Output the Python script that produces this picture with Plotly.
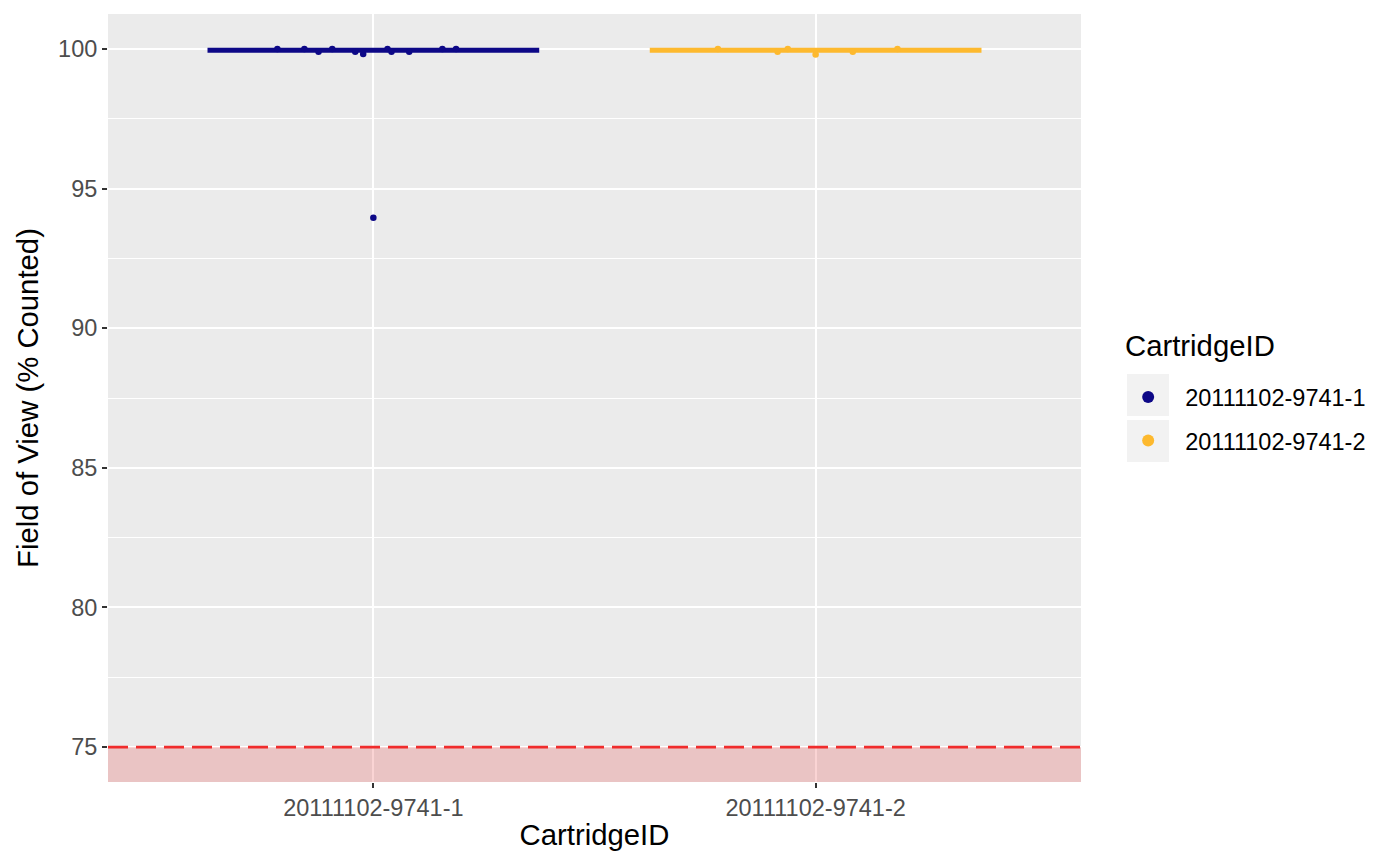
import numpy as np
import plotly.graph_objects as go

# data
cartridges = ["20111102-9741-1", "20111102-9741-2"]
colors = ["#0D0887", "#FDB92E"]

jitter_1 = [-0.217, -0.156, -0.124, -0.093, -0.041, -0.023, 0.032, 0.041, 0.081, 0.156, 0.187, 0.0]
fov_1 = [100.0, 100.0, 99.9, 100.0, 99.9, 99.82, 100.0, 99.9, 99.9, 100.0, 100.0, 93.95]

jitter_2 = [-0.221, -0.086, -0.063, 0.0, 0.084, 0.185]
fov_2 = [100.0, 99.9, 100.0, 99.8, 99.9, 100.0]

threshold = 75
y_ticks = [75, 80, 85, 90, 95, 100]

FONT = "Liberation Sans, Arial, sans-serif"
Y_RANGE = [73.75, 101.25]
TICK_SIZE = 23.5
TITLE_SIZE = 29.3

fig = go.Figure()

groups = [(jitter_1, fov_1), (jitter_2, fov_2)]
for i, (jit, vals) in enumerate(groups):
    pos = i + 1
    med = float(np.median(vals))
    # median bar
    fig.add_trace(go.Scatter(
        x=[pos - 0.375, pos + 0.375], y=[med, med], mode="lines",
        line=dict(color=colors[i], width=5), showlegend=False, hoverinfo="skip"))
    fig.add_trace(go.Scatter(
        x=[pos + j for j in jit], y=vals, mode="markers",
        marker=dict(color=colors[i], size=6.5), name=cartridges[i],
        legendgroup=cartridges[i]))

# fail zone, drawn over the grid like ggplot's annotate layer
fig.add_shape(type="rect", xref="paper", x0=0, x1=1, yref="y", y0=Y_RANGE[0], y1=threshold,
              fillcolor="rgba(230,40,40,0.2)", line_width=0, layer="above")
fig.add_shape(type="line", xref="paper", x0=0, x1=1, yref="y", y0=threshold, y1=threshold,
              line=dict(color="#F02C2C", width=2.6, dash="20px,8px"), layer="above")

# grey legend key backgrounds
for y0, y1 in [(0.4766, 0.5313), (0.4167, 0.4714)]:
    fig.add_shape(type="rect", xref="paper", yref="paper", x0=1.0473, x1=1.0904,
                  y0=y0, y1=y1, fillcolor="#F2F2F2", line_width=0, layer="below")

fig.add_annotation(text="CartridgeID", xref="paper", yref="paper", x=1.043, y=0.569,
                   xanchor="left", yanchor="middle", showarrow=False,
                   font=dict(size=TITLE_SIZE, color="black"))

# page has an 8px body margin, so margins are shifted to keep the panel in place
fig.update_layout(
    width=1400, height=865,
    margin=dict(l=100, r=327, t=6, b=91),
    paper_bgcolor="white", plot_bgcolor="#EBEBEB",
    font=dict(family=FONT, color="black"),
    legend=dict(
        font=dict(size=TICK_SIZE, color="black"),
        x=1.0310, xanchor="left", y=0.5296, yanchor="top",
        itemsizing="constant", itemwidth=64, bgcolor="rgba(0,0,0,0)",
        tracegroupgap=10,
    ),
)

fig.update_xaxes(
    range=[0.4, 2.6], tickvals=[1, 2], ticktext=cartridges,
    showgrid=True, gridcolor="white", gridwidth=2, zeroline=False,
    ticks="outside", ticklen=5, tickcolor="#333333", tickwidth=2,
    tickfont=dict(size=TICK_SIZE, color="#4D4D4D"),
    title=dict(text="CartridgeID", font=dict(size=TITLE_SIZE, color="black"), standoff=4),
)
fig.update_yaxes(
    range=Y_RANGE, tickvals=y_ticks,
    showgrid=True, gridcolor="white", gridwidth=2, zeroline=False,
    ticks="outside", ticklen=5, tickcolor="#333333", tickwidth=2,
    tickfont=dict(size=TICK_SIZE, color="#4D4D4D"),
    minor=dict(tick0=77.5, dtick=5, showgrid=True, gridcolor="white", gridwidth=1, ticks=""),
    title=dict(text="Field of View (% Counted)", font=dict(size=TITLE_SIZE, color="black"), standoff=10),
)

fig.write_html("out.html")
